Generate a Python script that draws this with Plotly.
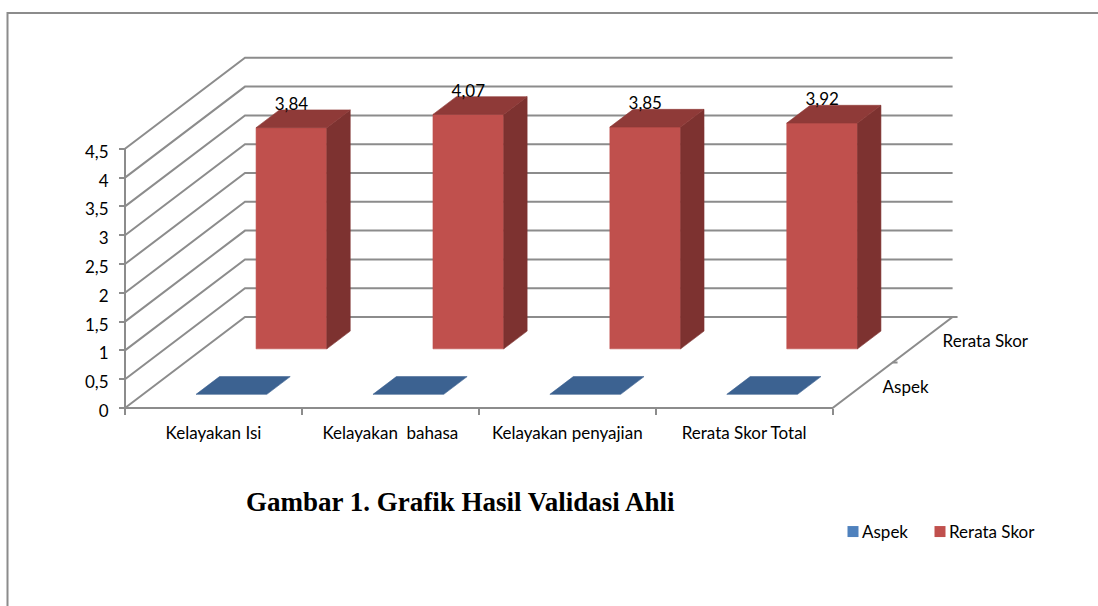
import plotly.graph_objects as go

# ---- data ----
categories = ["Kelayakan Isi", "Kelayakan\u00a0 bahasa", "Kelayakan penyajian", "Rerata Skor Total"]
aspek = [0, 0, 0, 0]
rerata = [3.84, 4.07, 3.85, 3.92]
rerata_labels = ["3,84", "4,07", "3,85", "3,92"]
y_ticks = [0, 0.5, 1, 1.5, 2, 2.5, 3, 3.5, 4, 4.5]
y_tick_labels = ["0", "0,5", "1", "1,5", "2", "2,5", "3", "3,5", "4", "4,5"]
series_names = ["Aspek", "Rerata Skor"]
title_text = "Gambar 1. Grafik Hasil Validasi Ahli"

# ---- page geometry ----
W, H = 1098, 606
X0_PX, Y0_PX = 125, 408      # front-left floor corner
PX_PER_CAT = 176.9
PX_PER_VAL = 57.6
DEPTH_X = 120 / PX_PER_CAT   # oblique offset of the full depth, in axis units
DEPTH_Y = 91 / PX_PER_VAL
BAR_W = 0.4
SERIES_DEPTH = [(0.15, 0.345), (0.65, 0.845)]
GRID = "#8C8C8C"
FRONT, SIDE, TOP = "#C0504D", "#7D3230", "#8F3A38"
BLUE_TOP, BLUE_SW = "#3C6291", "#4F81BD"
FONT = "Lato"
FS = 17


def pr(cat, val, depth):
    """Oblique projection of (category position, value, depth 0..1) onto the axes."""
    return cat + depth * DEPTH_X, val + depth * DEPTH_Y


def poly(points, color):
    xs, ys = zip(*[pr(*p) for p in points])
    return go.Scatter(x=list(xs) + [xs[0]], y=list(ys) + [ys[0]], mode="lines", fill="toself",
                      fillcolor=color, line=dict(width=0.6, color=color),
                      hoverinfo="skip", showlegend=False)


def line(points, width=2):
    xs, ys = zip(*[pr(*p) for p in points])
    return go.Scatter(x=list(xs), y=list(ys), mode="lines", line=dict(color=GRID, width=width),
                      hoverinfo="skip", showlegend=False)


fig = go.Figure()
n = len(categories)

# walls and floor
for v in y_ticks:
    fig.add_trace(line([(0, v, 0), (0, v, 1), (n, v, 1)]))
fig.add_trace(line([(0, 0, 0), (0, y_ticks[-1], 0)]))
fig.add_trace(line([(0, 0, 0), (n, 0, 0), (n, 0, 1), (n + 0.028, 0, 1)]))

# bars, each a box of projected faces
for s, values in enumerate([aspek, rerata]):
    d0, d1 = SERIES_DEPTH[s]
    for i, v in enumerate(values):
        a, b = i + 0.5 - BAR_W / 2, i + 0.5 + BAR_W / 2
        if v > 0:
            fig.add_trace(poly([(a, 0, d0), (b, 0, d0), (b, v, d0), (a, v, d0)], FRONT))
            fig.add_trace(poly([(b, 0, d0), (b, 0, d1), (b, v, d1), (b, v, d0)], SIDE))
            fig.add_trace(poly([(a, v, d0), (b, v, d0), (b, v, d1), (a, v, d1)], TOP))
        else:
            fig.add_trace(poly([(a, v, d0), (b, v, d0), (b, v, d1), (a, v, d1)], BLUE_TOP))

# data labels
lx, ly = zip(*[pr(i + 0.5, v + 22 / PX_PER_VAL, SERIES_DEPTH[1][0]) for i, v in enumerate(rerata)])
fig.add_trace(go.Scatter(x=list(lx), y=list(ly), mode="text", text=rerata_labels,
                         textposition="middle center", textfont=dict(family=FONT, size=FS, color="#000"),
                         hoverinfo="skip", showlegend=False))

# depth axis tick and labels
fig.add_trace(line([(n, 0, 0.5), (n + 0.028, 0, 0.5)]))
dx, dy = zip(*[pr(n + 20 / PX_PER_CAT, -3 / PX_PER_VAL, d) for d in (0.25, 0.75)])
fig.add_trace(go.Scatter(x=list(dx), y=list(dy), mode="text", text=series_names,
                         textposition="middle right", textfont=dict(family=FONT, size=FS, color="#000"),
                         hoverinfo="skip", showlegend=False))

# legend entries
for name, col in zip(series_names, [BLUE_SW, FRONT]):
    fig.add_trace(go.Scatter(x=[None], y=[None], mode="markers", name=name,
                             marker=dict(symbol="square", size=11, color=col)))

fig.update_layout(
    width=W, height=H, autosize=False,
    margin=dict(l=0, r=0, t=0, b=0, pad=0),
    paper_bgcolor="white", plot_bgcolor="white",
    font=dict(family=FONT, size=FS, color="#000"),
    showlegend=True,
    legend=dict(orientation="h", x=822 / W, xanchor="left", y=1 - 532 / H, yanchor="middle",
                bgcolor="rgba(0,0,0,0)", entrywidth=42, entrywidthmode="pixels",
                font=dict(family=FONT, size=FS, color="#000"), itemclick=False, itemdoubleclick=False),
    xaxis=dict(range=[-X0_PX / PX_PER_CAT, (W - X0_PX) / PX_PER_CAT], anchor="free", position=1 - Y0_PX / H,
               showgrid=False, zeroline=False, showline=False,
               tickmode="array", tickvals=[i + 0.5 for i in range(n)], ticktext=categories,
               ticks="", ticklabelstandoff=13,
               minor=dict(tickmode="array", tickvals=list(range(n + 1)), ticks="outside", ticklen=6,
                          tickcolor=GRID, tickwidth=1.5, showgrid=False)),
    yaxis=dict(range=[(Y0_PX - H) / PX_PER_VAL, Y0_PX / PX_PER_VAL], anchor="free", position=X0_PX / W,
               showgrid=False, zeroline=False, showline=False,
               tickmode="array", tickvals=y_ticks, ticktext=y_tick_labels,
               ticks="outside", ticklen=6, tickcolor=GRID, tickwidth=1.5, ticklabelstandoff=7),
    shapes=[dict(type="path", xref="paper", yref="paper",
                 path=f"M {7.5 / W} 0 L {7.5 / W} {1 - 13 / H} L 1 {1 - 13 / H}",
                 line=dict(color=GRID, width=2))],
    annotations=[dict(text=title_text, xref="paper", yref="paper", x=460 / W, y=1 - 502 / H,
                      xanchor="center", yanchor="middle", showarrow=False,
                      font=dict(family="Liberation Serif", size=27, color="#000", weight="bold"))],
)

post = """
document.body.style.margin='0';document.body.style.overflow='hidden';
document.querySelectorAll('.legend .scrollbox').forEach(function(e){e.removeAttribute('clip-path');});
document.querySelectorAll('.legend .legendpoints').forEach(function(e){e.setAttribute('transform','translate(11,0)');});
document.querySelectorAll('.ytick text').forEach(function(e){e.setAttribute('dy','3');});
"""
fig.write_html("out.html", config={"displayModeBar": False}, post_script=post)
